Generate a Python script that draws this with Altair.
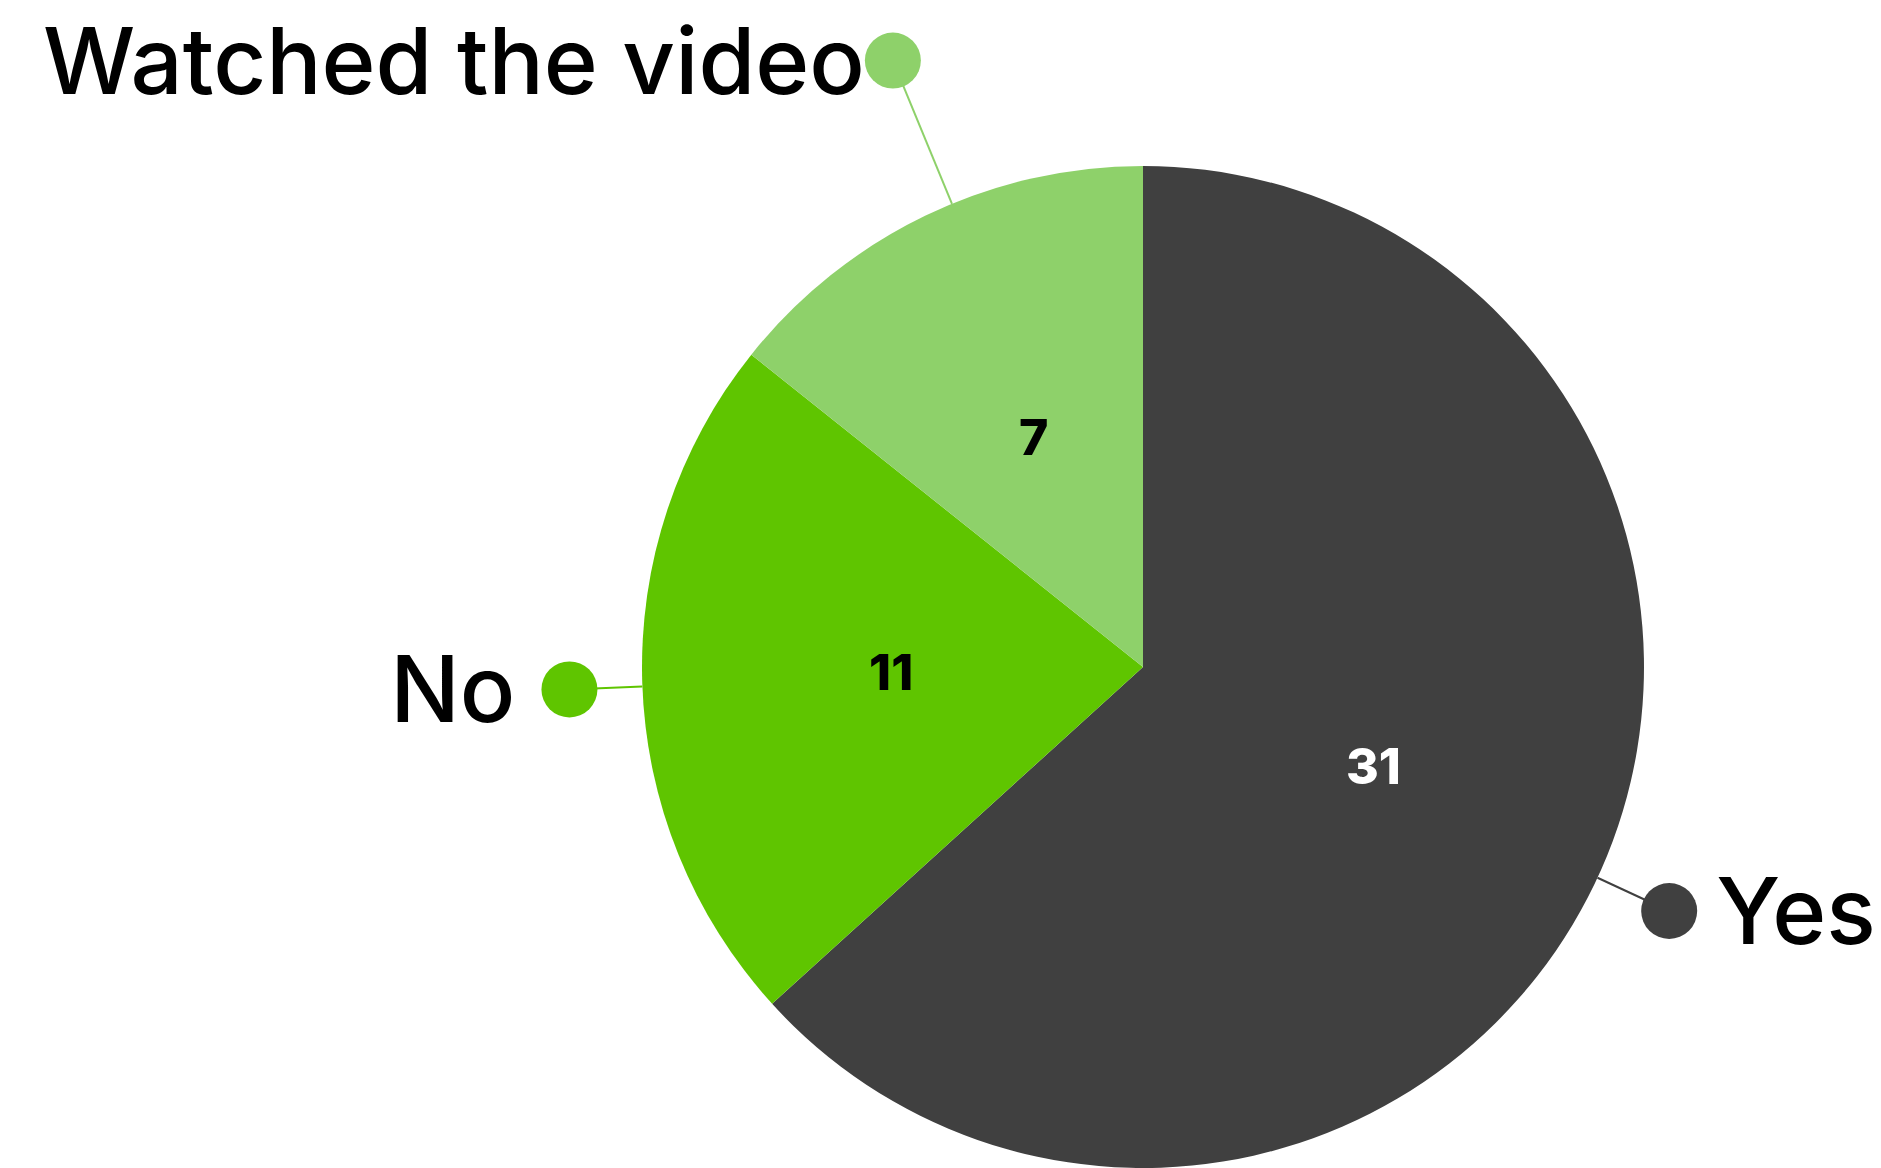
import math
import altair as alt
import pandas as pd

# ---- data ----
categories = ["Yes", "No", "Watched the video"]
values = [31, 11, 7]

# ---- styles / layout ----
slice_colors = ["#404040", "#5fc500", "#8ed16a"]
number_colors = ["#ffffff", "#000000", "#000000"]
W, H = 1881, 1168
CX, CY, R = 1143, 667, 501
LABEL_R = 252
# leader tweak per category: (extra angle in degrees, dot radius, text gap, side)
leader = {
    "Yes": (1.0, 580, 19, "left"),
    "No": (-0.4, 574, 26, "right"),
    "Watched the video": (3.3, 656, 0, "right"),
}
DOT_D = 56
FONT = "Inter"

total = sum(values)
rows = []
cum = 0
for i, (c, v) in enumerate(zip(categories, values)):
    mid = (cum + v / 2) / total * 2 * math.pi
    cum += v
    da, r2, gap, side = leader[c]
    a2 = mid + math.radians(da)
    x1 = CX + R * math.sin(a2)
    y1 = CY - R * math.cos(a2)
    x2 = CX + r2 * math.sin(a2)
    y2 = CY - r2 * math.cos(a2)
    tx = x2 + (DOT_D / 2 + gap) if side == "left" else x2 - (DOT_D / 2 + gap)
    rows.append(dict(
        idx=i, category=c, value=v, label=str(v),
        x1=x1, y1=y1, x2=x2, y2=y2, tx=tx, ty=y2, side=side,
        nx=CX + LABEL_R * math.sin(mid), ny=CY - LABEL_R * math.cos(mid),
        ncolor=number_colors[i],
    ))
df = pd.DataFrame(rows)

xs = alt.Scale(domain=[0, W], nice=False, zero=False)
ys = alt.Scale(domain=[0, H], nice=False, zero=False, reverse=True)
cscale = alt.Scale(domain=categories, range=slice_colors)

base = alt.Chart(df)

arc = base.mark_arc(radius=R, strokeWidth=0).encode(
    theta=alt.Theta("value:Q", stack=True),
    color=alt.Color("category:N", scale=cscale, legend=None),
    order=alt.Order("idx:Q"),
    x=alt.value(CX),
    y=alt.value(CY),
)

rule = base.mark_rule(strokeWidth=2).encode(
    x=alt.X("x1:Q", scale=xs, axis=None),
    y=alt.Y("y1:Q", scale=ys, axis=None),
    x2="x2:Q",
    y2="y2:Q",
    color=alt.Color("category:N", scale=cscale, legend=None),
)

dots = base.mark_circle(size=DOT_D ** 2, opacity=1).encode(
    x=alt.X("x2:Q", scale=xs, axis=None),
    y=alt.Y("y2:Q", scale=ys, axis=None),
    color=alt.Color("category:N", scale=cscale, legend=None),
)

txt_style = dict(baseline="alphabetic", dy=33, font=FONT, fontSize=92,
                 fontWeight=500, color="#000000")

txt_left = base.transform_filter(alt.datum.side == "left").mark_text(
    align="left", **txt_style
).encode(
    x=alt.X("tx:Q", scale=xs, axis=None),
    y=alt.Y("ty:Q", scale=ys, axis=None),
    text="category:N",
)

txt_right = base.transform_filter(alt.datum.side == "right").mark_text(
    align="right", **txt_style
).encode(
    x=alt.X("tx:Q", scale=xs, axis=None),
    y=alt.Y("ty:Q", scale=ys, axis=None),
    text="category:N",
)

nums = base.mark_text(
    align="center", baseline="middle", font=FONT, fontSize=50, fontWeight=800,
).encode(
    x=alt.X("nx:Q", scale=xs, axis=None),
    y=alt.Y("ny:Q", scale=ys, axis=None),
    text="label:N",
    color=alt.Color("ncolor:N", scale=None),
)

chart = alt.layer(arc, rule, dots, txt_left, txt_right, nums).resolve_scale(
    color="independent"
).properties(
    width=W, height=H, padding=0,
    autosize=alt.AutoSizeParams(type="none"),
    background="#ffffff",
).configure_view(stroke=None)

chart.save("out.html", embed_options={"renderer": "svg", "actions": False})
